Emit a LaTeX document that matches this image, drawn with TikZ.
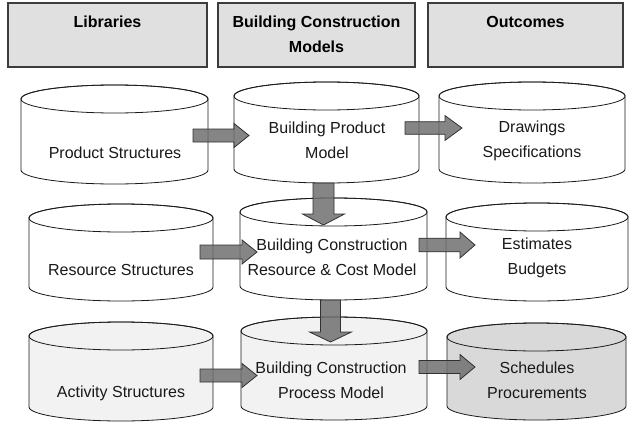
\documentclass[tikz,border=0pt]{standalone}
\usepackage{fontspec}
\setmainfont{Liberation Sans}
\definecolor{hdrfill}{HTML}{E0E0E0}
\definecolor{lightfill}{HTML}{F2F2F2}
\definecolor{darkfill}{HTML}{D9D9D9}
\definecolor{arrfill}{HTML}{707070}
\definecolor{edge}{HTML}{1A1A1A}
\tikzset{
  cylline/.style={draw=edge, line width=0.8pt},
  hdrbox/.style={draw=edge!85, line width=1.2pt, fill=hdrfill, rectangle, inner sep=0pt},
  hdrtext/.style={font=\fontsize{16}{25}\selectfont\bfseries, align=center, inner sep=0pt},
  lbl/.style={font=\fontsize{16}{25}\selectfont, align=center, inner sep=0pt, text=black!90},
  blk/.style={draw=edge!90, line width=0.8pt, fill=arrfill, fill opacity=0.85},
}
% cylinder: L R T B fill
\newcommand\dbcyl[5]{%
  \pgfmathsetmacro\crx{(#2-#1)/2}%
  \pgfmathsetmacro\ccx{(#1+#2)/2}%
  \pgfmathsetmacro\cty{#3+14}%
  \pgfmathsetmacro\cby{#4-14}%
  \filldraw[cylline, fill=#5] (#1,\cty) -- (#1,\cby) arc[start angle=180, end angle=0, x radius=\crx, y radius=14] -- (#2,\cty) arc[start angle=0, end angle=-180, x radius=\crx, y radius=14] -- cycle;
  \draw[cylline] (\ccx,\cty) ellipse[x radius=\crx, y radius=14];
}
% horizontal block arrow: x0 x1 xtip yc shafthalf headhalf
\newcommand\harr[6]{%
  \filldraw[blk] (#1,#4-#5) -- (#2,#4-#5) -- (#2,#4-#6) -- (#3,#4) -- (#2,#4+#6) -- (#2,#4+#5) -- (#1,#4+#5) -- cycle;
}
% vertical block arrow: y0 y1 ytip xc shafthalf headhalf
\newcommand\varr[6]{%
  \filldraw[blk] (#4-#5,#1) -- (#4-#5,#2) -- (#4-#6,#2) -- (#4,#3) -- (#4+#6,#2) -- (#4+#5,#2) -- (#4+#5,#1) -- cycle;
}
\begin{document}
\begin{tikzpicture}[x=1pt,y=-1pt]
\useasboundingbox (0,0) rectangle (629,423);
% headers
\node[hdrbox, minimum width=199pt, minimum height=64pt] (hlibbox) at (107.5,35) {};
\node[hdrbox, minimum width=197pt, minimum height=64pt] (hbcmbox) at (316.5,35) {};
\node[hdrbox, minimum width=195pt, minimum height=64pt] (houtbox) at (525.5,35) {};
\node[hdrtext] (hlib) at (107.5,22) {Libraries};
\node[hdrtext] (hbcm) at (316.5,34.5) {Building Construction\\Models};
\node[hdrtext] (hout) at (525.5,22) {Outcomes};
% cylinders
\dbcyl{21}{208}{85}{184}{white}
\dbcyl{234}{419}{82}{183}{white}
\dbcyl{439}{625}{82}{183}{white}
\dbcyl{29}{213}{204}{301}{white}
\dbcyl{240}{427}{198}{300}{white}
\dbcyl{446}{628}{203}{301}{white}
\dbcyl{29}{213}{322}{421}{lightfill}
\dbcyl{241}{427}{317}{420}{lightfill}
\dbcyl{447}{626}{323}{420}{darkfill}
% labels
\node[lbl] (prod) at (115,153) {Product Structures};
\node[lbl] (bpm) at (327,140.5) {Building Product\\Model};
\node[lbl] (draw) at (532,140.5) {Drawings\\Specifications};
\node[lbl] (res) at (121,270) {Resource Structures};
\node[lbl] (bcrcm) at (332,257.5) {Building Construction\\Resource \& Cost Model};
\node[lbl] (est) at (537,257.5) {Estimates\\Budgets};
\node[lbl] (act) at (121,393) {Activity Structures};
\node[lbl] (bcpm) at (331,380.5) {Building Construction\\Process Model};
\node[lbl] (sched) at (537,380.5) {Schedules\\Procurements};
% arrows
\harr{193}{234}{249}{135.5}{6.5}{12}
\harr{405}{445}{462}{128}{6.3}{12.4}
\varr{183}{214}{225}{323.5}{10.5}{21}
\harr{200}{242}{257}{252}{7}{12}
\harr{419}{460}{475}{245}{6.8}{13}
\varr{300}{332}{342}{330.5}{10}{21}
\harr{200}{242}{257}{375.5}{6.5}{12}
\harr{419}{460}{475}{367}{6.5}{12.5}
\end{tikzpicture}
\end{document}
